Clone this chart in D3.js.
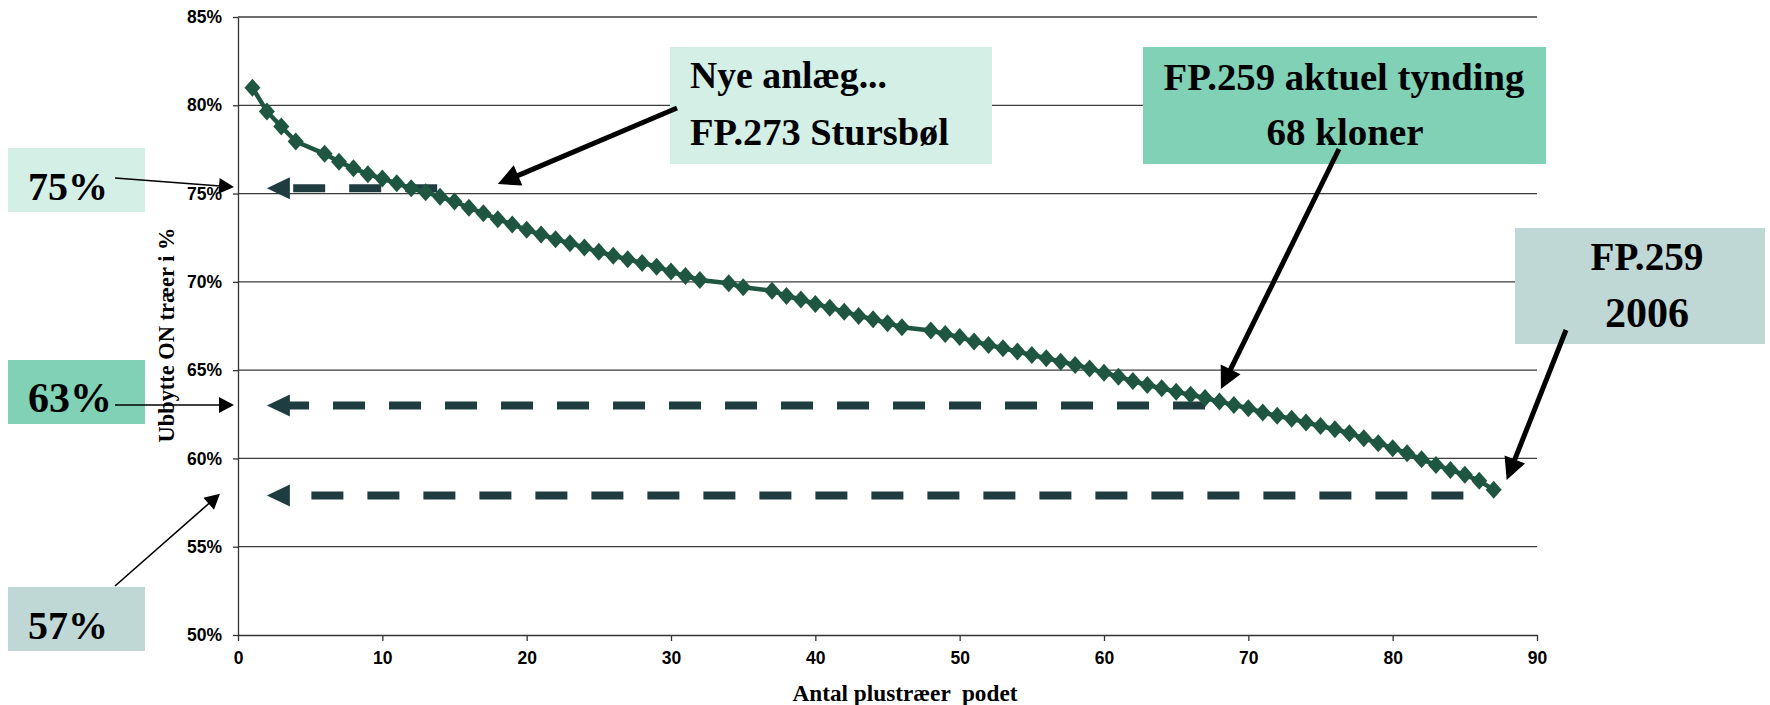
<!DOCTYPE html>
<html>
<head>
<meta charset="utf-8">
<script src="https://cdn.jsdelivr.net/npm/d3@7"></script>
<style>
body { margin: 0; background: #fff; }
svg { display: block; }
</style>
</head>
<body>
<div class="container"></div>
<script>
// number of plus trees grafted (x) and yield ON trees in % (y)
const xVals = [1, 2, 3, 4, 6, 7, 8, 9, 10, 11, 12, 13, 14, 15, 16, 17, 18, 19, 20, 21, 22, 23, 24, 25, 26, 27, 28, 29, 30, 31, 32,
  34, 35, 37, 38, 39, 40, 41, 42, 43, 44, 45, 46, 48, 49, 50, 51, 52, 53, 54, 55, 56, 57, 58, 59, 60, 61, 62, 63, 64, 65, 66, 67,
  68, 69, 70, 71, 72, 73, 74, 75, 76, 77, 78, 79, 80, 81, 82, 83, 84, 85, 86, 87]
const yVals = [81.0, 79.65, 78.8, 77.95, 77.25, 76.8, 76.43, 76.1, 75.85, 75.58, 75.3, 75.08, 74.82, 74.55, 74.2, 73.88, 73.55,
  73.25, 72.95, 72.68, 72.42, 72.18, 71.95, 71.7, 71.48, 71.28, 71.07, 70.86, 70.58, 70.33, 70.11,
  69.92, 69.69, 69.5, 69.2, 69.0, 68.75, 68.54, 68.31, 68.07, 67.88, 67.66, 67.43, 67.24, 67.05, 66.87, 66.62, 66.43, 66.24,
  66.05, 65.86, 65.67, 65.48, 65.29, 65.1, 64.85, 64.63, 64.38, 64.16, 63.97, 63.78, 63.6, 63.42,
  63.22, 63.03, 62.84, 62.6, 62.41, 62.25, 62.03, 61.84, 61.65, 61.43, 61.14, 60.86, 60.58, 60.3, 59.95, 59.63, 59.35, 59.07, 58.74, 58.22]

const yTicks = [50, 55, 60, 65, 70, 75, 80, 85]
const xTicks = [0, 10, 20, 30, 40, 50, 60, 70, 80, 90]

// dashed reference levels: level value, where the dash starts (x), label
const levelVals = [75.3, 63.0, 57.9]
const levelEnds = [13.8, 67.0, 84.9]
const levelLabels = ["75%", "63%", "57%"]

const xTitle = "Antal plustræer  podet"
const yTitle = "Ubbytte ON træer i %"

const w = 1770
const h = 705

const svg = d3.select(".container")
  .append("svg")
  .attr("width", w)
  .attr("height", h)

const xScale = d3.scaleLinear().domain([0, 90]).range([238, 1537])
const yScale = d3.scaleLinear().domain([50, 85]).range([635, 17])

const serif = "'Liberation Serif', 'Times New Roman', serif"
const sans = "'Liberation Sans', Arial, sans-serif"

// make a text element exactly as wide as in the picture
function fit(t, width) {
  const len = t.node().getComputedTextLength()
  const fs = parseFloat(t.attr("font-size"))
  t.attr("font-size", fs * width / len)
}

function arrow(x1, y1, x2, y2, sw, hl, hw) {
  const a = Math.atan2(y2 - y1, x2 - x1)
  const bx = x2 - hl * Math.cos(a), by = y2 - hl * Math.sin(a)
  svg.append("line")
    .attr("x1", x1).attr("y1", y1)
    .attr("x2", bx + Math.cos(a)).attr("y2", by + Math.sin(a))
    .attr("stroke", "#000").attr("stroke-width", sw)
  const px = -Math.sin(a) * hw, py = Math.cos(a) * hw
  svg.append("path")
    .attr("d", `M${x2},${y2}L${bx + px},${by + py}L${bx - px},${by - py}Z`)
    .attr("fill", "#000")
}

// gridlines
svg.append("g").selectAll("line")
  .data(yTicks.slice(1))
  .enter()
  .append("line")
  .attr("x1", xScale(0)).attr("x2", xScale(90))
  .attr("y1", d => yScale(d)).attr("y2", d => yScale(d))
  .attr("stroke", "#3c3c3c").attr("stroke-width", 1.3)

// axes
const yAxis = d3.axisLeft(yScale).tickValues(yTicks).tickFormat(d => d + "%").tickSize(5).tickSizeOuter(0).tickPadding(11)
const gy = svg.append("g").attr("transform", "translate(" + xScale(0) + ",0)").call(yAxis)
const xAxis = d3.axisBottom(xScale).tickValues(xTicks).tickSize(6).tickSizeOuter(0).tickPadding(11)
const gx = svg.append("g").attr("transform", "translate(0," + yScale(50) + ")").call(xAxis)
for (const g of [gx, gy]) {
  g.selectAll("path, line").attr("stroke", "#333").attr("stroke-width", 1.3)
  g.selectAll("text").attr("font-family", sans).attr("font-weight", "bold").attr("font-size", 17.5).attr("fill", "#000")
}

// axis titles
const tx = svg.append("text")
  .attr("x", 905).attr("y", 701)
  .attr("text-anchor", "middle")
  .attr("font-family", serif).attr("font-weight", "bold").attr("font-size", 20)
  .style("white-space", "pre")
  .text(xTitle)
fit(tx, 225)
const ty = svg.append("text")
  .attr("transform", "translate(174,335) rotate(-90)")
  .attr("text-anchor", "middle")
  .attr("font-family", serif).attr("font-weight", "bold").attr("font-size", 20)
  .text(yTitle)
fit(ty, 215)

// dashed level arrows
levelVals.forEach((v, i) => {
  const tip = xScale(2)
  const yy = yScale(v)
  svg.append("line")
    .attr("x1", xScale(levelEnds[i])).attr("x2", tip + 22)
    .attr("y1", yy).attr("y2", yy)
    .attr("stroke", "#1f3d40").attr("stroke-width", 8)
    .attr("stroke-dasharray", "32 24")
  svg.append("path")
    .attr("d", `M${tip},${yy}L${tip + 23},${yy - 11}L${tip + 23},${yy + 11}Z`)
    .attr("fill", "#1f3d40")
})

// the series
const line = d3.line()
  .x((d, i) => xScale(xVals[i]))
  .y(d => yScale(d))
svg.append("path")
  .datum(yVals)
  .attr("d", line)
  .attr("fill", "none")
  .attr("stroke", "#1e5641")
  .attr("stroke-width", 4.5)
svg.append("g").selectAll("path")
  .data(yVals)
  .enter()
  .append("path")
  .attr("d", "M0,-9L8,0L0,9L-8,0Z")
  .attr("transform", (d, i) => "translate(" + xScale(xVals[i]) + "," + yScale(d) + ")")
  .attr("fill", "#1e5641")

// level label boxes on the left
const levelColors = ["#d4efe6", "#80d1b5", "#c0d8d5"]
const levelTops = [148, 360, 587]
const levelWidths = [80, 84, 80]
levelLabels.forEach((lab, i) => {
  svg.append("rect")
    .attr("x", 8).attr("y", levelTops[i])
    .attr("width", 137).attr("height", 64)
    .attr("fill", levelColors[i])
  const t = svg.append("text")
    .attr("x", 28).attr("y", levelTops[i] + 52)
    .attr("font-family", serif).attr("font-weight", "bold").attr("font-size", 40)
    .text(lab)
  fit(t, levelWidths[i])
})
arrow(115, 178, 234, 187, 1.6, 15, 8)
arrow(115, 405, 234, 405, 1.6, 15, 8)
arrow(115, 586, xScale(-1.25), yScale(58.0), 1.6, 15, 8)

// callout boxes
function callout(x, y, bw, bh, fill, lines, anchor) {
  svg.append("rect")
    .attr("x", x).attr("y", y).attr("width", bw).attr("height", bh)
    .attr("fill", fill)
  lines.forEach(l => {
    const t = svg.append("text")
      .attr("x", l.x).attr("y", l.y)
      .attr("text-anchor", anchor)
      .attr("font-family", serif).attr("font-weight", "bold").attr("font-size", 32)
      .text(l.text)
    fit(t, l.w)
  })
}
callout(670, 47, 322, 117, "#d4efe6", [
  { text: "Nye anlæg...", x: 690, y: 88, w: 197 },
  { text: "FP.273 Stursbøl", x: 690, y: 145, w: 259 }
], "start")
callout(1143, 47, 403, 117, "#80d1b5", [
  { text: "FP.259 aktuel tynding", x: 1344, y: 90, w: 361 },
  { text: "68 kloner", x: 1345, y: 145, w: 157 }
], "middle")
callout(1515, 228, 250, 116, "#c0d8d5", [
  { text: "FP.259", x: 1647, y: 270, w: 113 },
  { text: "2006", x: 1647, y: 327, w: 84 }
], "middle")

arrow(677, 108, xScale(18.0), yScale(75.54), 5, 22, 11)
arrow(1339, 149, xScale(68.1), yScale(63.93), 5, 22, 11)
arrow(1566, 330, xScale(87.9), yScale(58.78), 5, 22, 11)
</script>
</body>
</html>
